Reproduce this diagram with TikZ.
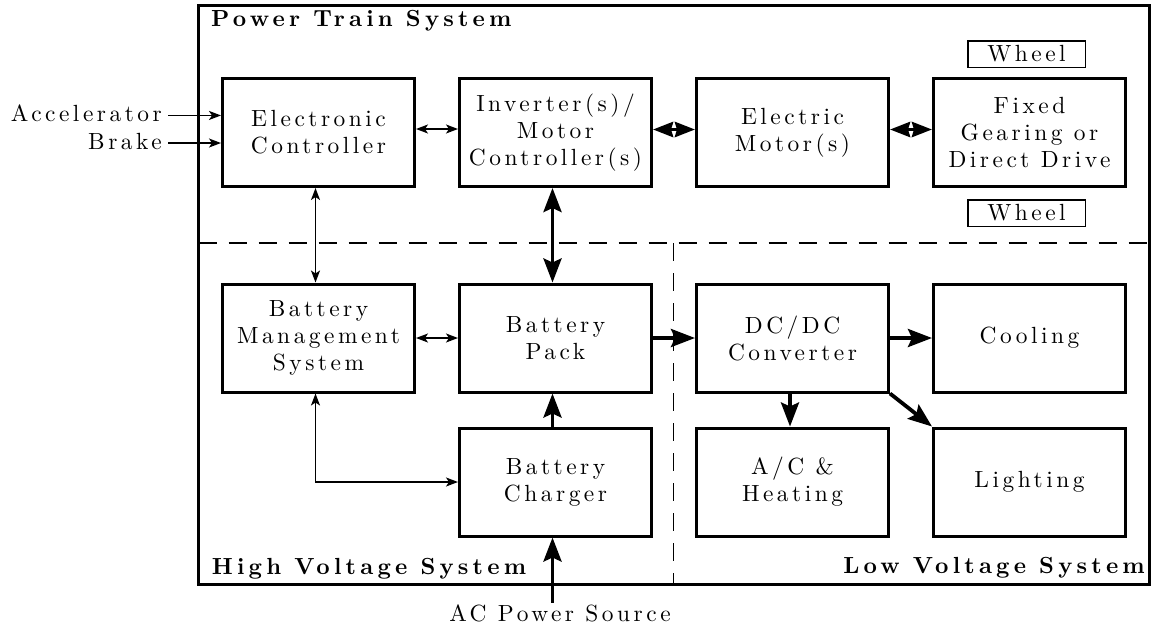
\documentclass[tikz,border=0pt]{standalone}
\usepackage{fontspec}
\setmainfont{lmroman10}[Extension=.otf,UprightFont=*-regular,BoldFont=*-bold,ItalicFont=*-italic,BoldItalicFont=*-bolditalic,LetterSpace=15,BoldFeatures={LetterSpace=18}]
\usetikzlibrary{arrows.meta}
\tikzset{
  txt/.style={font=\fontsize{23.4}{27}\selectfont},
  blk/.style={txt, draw, line width=3pt, minimum width=192pt, minimum height=108pt, align=center, inner sep=0pt},
  whl/.style={txt, draw, line width=1.5pt, minimum width=117.5pt, minimum height=26.5pt, inner sep=0pt},
  lbl/.style={txt, inner sep=0pt},
  ttl/.style={font=\fontsize{23.3}{27}\selectfont\bfseries, inner sep=0pt},
  sep/.style={line width=1.5pt, dash pattern=on 18pt off 12pt},
  thintip/.tip={Stealth[length=12pt,width=9pt,inset=3pt]},
  thicktip/.tip={Stealth[length=24pt,width=18pt,inset=4pt]},
  bowtip/.tip={Stealth[length=20pt,width=15pt,inset=2pt]},
  thinarr/.style={line width=1.6pt, -thintip},
  thinboth/.style={line width=1.6pt, thintip-thintip},
  thickarr/.style={line width=3.8pt, -thicktip},
  thickboth/.style={line width=3.8pt, thicktip-thicktip},
  bowboth/.style={line width=3.8pt, bowtip-bowtip},
}
\begin{document}
\begin{tikzpicture}[x=1pt,y=-1pt]
\useasboundingbox (0,0) rectangle (1156,627);
% outer frame
\draw[line width=3pt] (198.5,5.5) rectangle (1149.5,584.5);
% separators
\coordinate (hl) at (198.5,243);
\coordinate (hr) at (1149.5,243);
\coordinate (vt) at (673.5,243);
\coordinate (vb) at (673.5,584.5);
\draw[sep] (hl) -- (hr);
\draw[sep] (vt) -- (vb);
% titles
\node[ttl, anchor=base west] (tpt) at (211,26.7) {Power Train System};
\node[ttl, anchor=base west] (thv) at (211.7,574) {High Voltage System};
\node[ttl, anchor=base east] (tlv) at (1145,573.3) {Low Voltage System};
% row 1
\node[blk] (EC)  at (318.5,132.5) {Electronic\\Controller};
\node[blk] (INV) at (555.5,132.5) {Inverter(s)/\\Motor\\Controller(s)};
\node[blk] (MOT) at (792.5,132.5) {Electric\\Motor(s)};
\node[blk] (FIX) at (1029.5,132.5) {Fixed\\Gearing or\\Direct Drive};
\node[whl] (W1) at (1026.5,54) {Wheel};
\node[whl] (W2) at (1026.5,213) {Wheel};
% row 2
\node[blk] (BMS) at (318.5,338) {Battery\\Management\\System};
\node[blk] (BP)  at (555.5,338) {Battery\\Pack};
\node[blk] (DC)  at (792.5,338) {DC/DC\\Converter};
\node[blk] (COOL) at (1029.5,338) {Cooling};
% row 3
\node[blk] (BC)  at (555.5,482) {Battery\\Charger};
\node[blk] (AC)  at (792.5,482) {A/C \&\\Heating};
\node[blk] (LI)  at (1029.5,482) {Lighting};
% outside labels
\node[lbl, anchor=base east] (acc) at (162,121.7) {Accelerator};
\node[lbl, anchor=base east] (brk) at (162,149) {Brake};
\node[lbl, anchor=base] (acp) at (560,621.7) {AC Power Source};
% connectors
\coordinate (a1) at ([xshift=6pt,yshift=-2pt]acc.east);
\coordinate (b1) at ([xshift=6pt,yshift=-2pt]brk.east);
\draw[thinarr] (a1) -- (a1 -| EC.west);
\draw[thinarr] (b1) -- (b1 -| EC.west);
\draw[thinboth] ([yshift=3.5pt]EC.east) -- ([yshift=3.5pt]INV.west);
\draw[bowboth] ([yshift=3pt]INV.east) -- ([yshift=3pt]MOT.west);
\draw[bowboth] ([yshift=3pt]MOT.east) -- ([yshift=3pt]FIX.west);
\draw[thinboth] ([xshift=-3pt]EC.south) -- ([xshift=-3pt]BMS.north);
\draw[thickboth] ([xshift=-3pt]INV.south) -- ([xshift=-3pt]BP.north);
\draw[thinboth] (BMS.east) -- (BP.west);
\draw[thickarr] (BP.east) -- (DC.west);
\draw[thickarr] (DC.east) -- (COOL.west);
\draw[thickarr] ([xshift=-2.5pt]DC.south) -- ([xshift=-2.5pt]AC.north);
\draw[thickarr] (DC.south east) -- (LI.north west);
\draw[thickarr] ([xshift=-3pt]BC.north) -- ([xshift=-3pt]BP.south);
\coordinate (bcs) at ([xshift=-3pt]BC.south);
\coordinate (acn) at ([yshift=2pt]acp.north);
\draw[thickarr] (bcs |- acn) -- (bcs);
\draw[thinboth] ([xshift=-3pt]BMS.south) |- (BC.west);
\end{tikzpicture}
\end{document}
